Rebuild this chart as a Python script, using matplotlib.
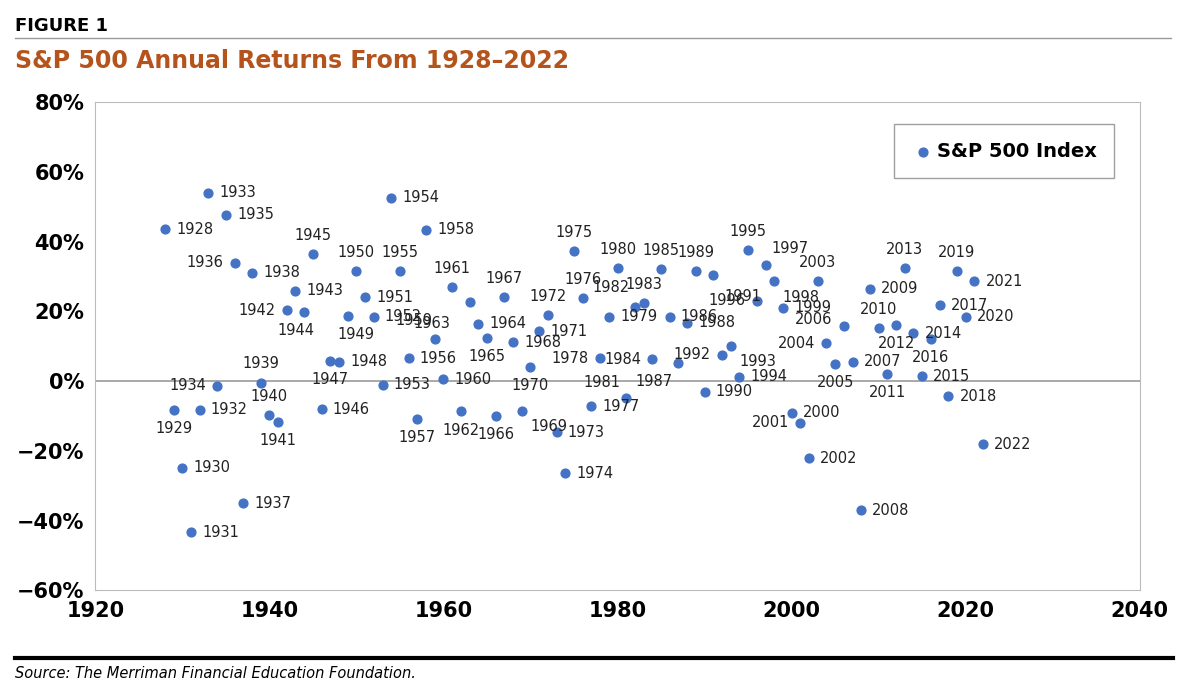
import matplotlib
matplotlib.use("Agg")
import matplotlib.pyplot as plt

years = list(range(1928, 2023))
returns = [43.6, -8.4, -24.9, -43.3, -8.2, 54.0, -1.4, 47.7, 33.9, -35.0,
           31.1, -0.4, -9.8, -11.6, 20.3, 25.9, 19.8, 36.4, -8.1, 5.7,
           5.5, 18.8, 31.7, 24.0, 18.4, -1.0, 52.6, 31.6, 6.6, -10.8,
           43.4, 12.0, 0.5, 26.9, -8.7, 22.8, 16.5, 12.5, -10.1, 24.0,
           11.1, -8.5, 4.0, 14.3, 19.0, -14.7, -26.5, 37.2, 23.8, -7.2,
           6.6, 18.4, 32.4, -4.9, 21.4, 22.5, 6.3, 32.2, 18.5, 5.2,
           16.8, 31.5, -3.1, 30.5, 7.6, 10.1, 1.3, 37.6, 23.0, 33.4,
           28.6, 21.0, -9.1, -11.9, -22.1, 28.7, 10.9, 4.9, 15.8, 5.5,
           -37.0, 26.5, 15.1, 2.1, 16.0, 32.4, 13.7, 1.4, 12.0, 21.8,
           -4.4, 31.5, 18.4, 28.7, -18.1]

# label placement (dx, dy in points, ha, va); default to the right
R = (8, 0, 'left', 'center'); L = (-8, 0, 'right', 'center')
A = (0, 8, 'center', 'bottom'); B = (0, -8, 'center', 'top')
place = {1929: B, 1934: L, 1936: L, 1939: A, 1940: A, 1941: B, 1942: L,
         1944: (-6, -8, 'center', 'top'), 1945: A, 1947: B,
         1949: (6, -8, 'center', 'top'), 1950: A, 1955: A, 1957: B,
         1959: (-2, 8, 'right', 'bottom'), 1961: A, 1962: B,
         1963: (-14, -10, 'right', 'top'), 1965: B, 1966: B, 1967: A,
         1969: (6, -6, 'left', 'top'), 1970: B, 1972: A, 1975: A, 1976: A,
         1978: L, 1980: A, 1981: (-4, 6, 'right', 'bottom'), 1982: (-4, 8, 'right', 'bottom'),
         1983: A, 1984: L, 1985: A, 1987: (-4, -8, 'right', 'top'), 1989: A,
         1991: (8, -10, 'left', 'top'), 1992: L, 1993: (6, -6, 'left', 'top'),
         1995: A, 1996: L, 1997: (4, 6, 'left', 'bottom'),
         1998: (6, -6, 'left', 'top'), 2001: L, 2003: A, 2004: L, 2005: B,
         2006: (-8, 5, 'right', 'center'), 2010: A, 2011: B, 2012: B, 2013: A,
         2016: B, 2019: A}

fig = plt.figure(figsize=(11.91, 6.96), dpi=100)
fig.text(0.013, 0.962, "FIGURE 1", fontsize=13, fontweight='bold', va='center')
fig.add_artist(plt.Line2D([0.013, 0.983], [0.945, 0.945], color='#999999', lw=1))
fig.text(0.013, 0.913, "S&P 500 Annual Returns From 1928\u20132022", fontsize=17,
         fontweight='bold', color='#b5531c', va='center')
fig.add_artist(plt.Line2D([0.013, 0.985], [0.055, 0.055], color='black', lw=3))
fig.text(0.013, 0.032, "Source: The Merriman Financial Education Foundation.",
         fontsize=10.5, style='italic', va='center')

ax = fig.add_axes([0.080, 0.152, 0.877, 0.701])
ax.scatter(years, returns, s=40, color='#4472c4', zorder=3, label='S&P 500 Index')
for yr, r in zip(years, returns):
    dx, dy, ha, va = place.get(yr, R)
    ax.annotate(str(yr), (yr, r), xytext=(dx, dy), textcoords='offset points',
                ha=ha, va=va, fontsize=10.5, color='#222222')
ax.axhline(0, color='#999999', lw=1.2, zorder=1)
ax.set_xlim(1920, 2040)
ax.set_ylim(-60, 80)
ax.set_xticks(range(1920, 2041, 20))
ax.set_yticks(range(-60, 81, 20))
ax.set_yticklabels([f"\u2212{abs(v)}%" if v < 0 else f"{v}%" for v in range(-60, 81, 20)])
ax.tick_params(length=0, labelsize=15, pad=8)
for lab in ax.get_xticklabels() + ax.get_yticklabels():
    lab.set_fontweight('bold')
for s in ax.spines.values():
    s.set_color('#bbbbbb')
leg = ax.legend(loc='upper right', fontsize=14, frameon=True, fancybox=False,
                borderpad=0.9, handletextpad=0.1, handlelength=1.2,
                bbox_to_anchor=(0.985, 0.975))
leg.get_frame().set_edgecolor('#888888')
for t in leg.get_texts():
    t.set_fontweight('bold')
fig.savefig("out.png", dpi=100)
